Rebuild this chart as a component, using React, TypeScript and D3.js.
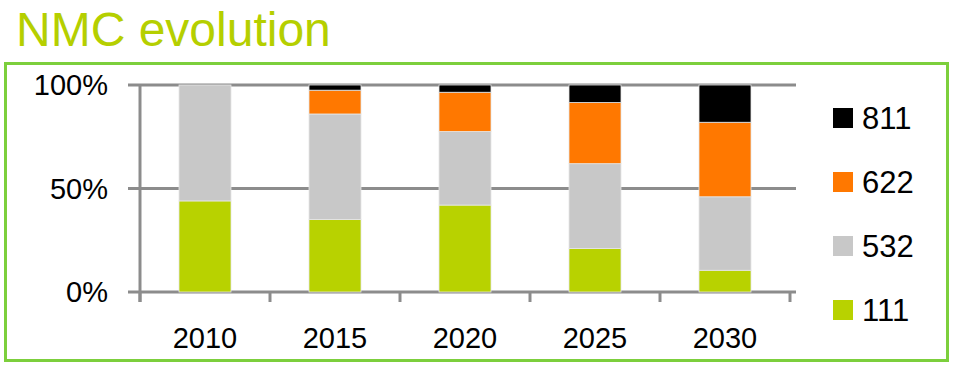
import { useEffect, useRef } from 'react';
import * as d3 from 'd3';

const years = ['2010', '2015', '2020', '2025', '2030'];
const series = ['111', '532', '622', '811'];
const share111 = [44, 35, 42, 21, 10.5];
const share532 = [56, 51, 35.5, 41, 35.5];
const share622 = [0, 11.5, 19, 29.5, 36];
const share811 = [0, 2.5, 3.5, 8.5, 18];
const yTicks = [0, 50, 100];

const colors: Record<string, string> = {
  '111': '#b8d200',
  '532': '#c8c8c8',
  '622': '#ff7800',
  '811': '#000000'
};

export default function App() {
  const svgRef = useRef<SVGSVGElement>(null);

  useEffect(() => {
    if (!svgRef.current) return;
    const svg = d3.select(svgRef.current);
    svg.selectAll('*').remove();

    const width = 956;
    const height = 367;
    const font = '"Liberation Sans", Arial, sans-serif';

    // title + frame
    svg
      .append('text')
      .attr('x', 16)
      .attr('y', 46)
      .text('NMC evolution')
      .style('font-family', font)
      .style('font-size', '48px')
      .style('fill', '#b5cf00');

    svg
      .append('rect')
      .attr('x', 5.5)
      .attr('y', 63.5)
      .attr('width', 942)
      .attr('height', 297)
      .style('fill', 'none')
      .style('stroke', '#7ccf3c')
      .style('stroke-width', 3);

    const table = years.map((y, i) => ({
      year: y,
      '111': share111[i],
      '532': share532[i],
      '622': share622[i],
      '811': share811[i]
    }));

    const x = d3.scaleBand().domain(years).range([140, 790]).paddingInner(0.6).paddingOuter(0.3);
    const yScale = d3.scaleLinear().domain([0, 100]).range([292, 85]);

    const g = svg.append('g');

    // gridlines
    g.selectAll('.grid')
      .data(yTicks)
      .enter()
      .append('line')
      .attr('x1', 128)
      .attr('x2', 796)
      .attr('y1', (d) => yScale(d))
      .attr('y2', (d) => yScale(d))
      .style('stroke', '#8c8c8c')
      .style('stroke-width', 3);

    // y axis line
    g.append('line')
      .attr('x1', 140)
      .attr('x2', 140)
      .attr('y1', yScale(100))
      .attr('y2', yScale(0) + 10)
      .style('stroke', '#8c8c8c')
      .style('stroke-width', 3);

    // x category ticks
    const bounds = d3.range(years.length + 1).map((i) => 140 + i * x.step());
    g.selectAll('.xtick')
      .data(bounds)
      .enter()
      .append('line')
      .attr('x1', (d) => d)
      .attr('x2', (d) => d)
      .attr('y1', yScale(0))
      .attr('y2', yScale(0) + 10)
      .style('stroke', '#8c8c8c')
      .style('stroke-width', 3);

    // y labels
    g.selectAll('.ylab')
      .data(yTicks)
      .enter()
      .append('text')
      .attr('x', 108)
      .attr('y', (d) => yScale(d) + 10)
      .attr('text-anchor', 'end')
      .text((d) => `${d}%`)
      .style('font-family', font)
      .style('font-size', '29px')
      .style('fill', '#000');

    // x labels
    g.selectAll('.xlab')
      .data(years)
      .enter()
      .append('text')
      .attr('x', (d) => x(d)! + x.bandwidth() / 2)
      .attr('y', 348)
      .attr('text-anchor', 'middle')
      .text((d) => d)
      .style('font-family', font)
      .style('font-size', '29px')
      .style('fill', '#000');

    // stacked bars
    const stack = d3.stack<any>().keys(series)(table);
    g.selectAll('.layer')
      .data(stack)
      .enter()
      .append('g')
      .style('fill', (d) => colors[d.key])
      .selectAll('rect')
      .data((d) => d.filter((p) => p[1] - p[0] > 0))
      .enter()
      .append('rect')
      .attr('x', (d) => x(d.data.year)!)
      .attr('width', x.bandwidth())
      .attr('y', (d) => yScale(d[1]))
      .attr('height', (d) => yScale(d[0]) - yScale(d[1]))
      .style('stroke', '#e6e6e6')
      .style('stroke-width', 0.8);

    // legend
    const legend = g
      .selectAll('.legend')
      .data(series.slice().reverse())
      .enter()
      .append('g')
      .attr('transform', (d, i) => `translate(833,${118 + i * 64})`);

    legend
      .append('rect')
      .attr('x', 0)
      .attr('y', -10)
      .attr('width', 20)
      .attr('height', 20)
      .style('fill', (d) => colors[d]);

    legend
      .append('text')
      .attr('x', 29)
      .attr('y', 11)
      .text((d) => d)
      .style('font-family', font)
      .style('font-size', '31px')
      .style('fill', '#000');

    svg.attr('width', width).attr('height', height);
  }, []);

  return (
    <svg
      ref={svgRef}
      width={956}
      height={367}
      style={{ position: 'absolute', left: 0, top: 0, background: '#fff' }}
    />
  );
}
